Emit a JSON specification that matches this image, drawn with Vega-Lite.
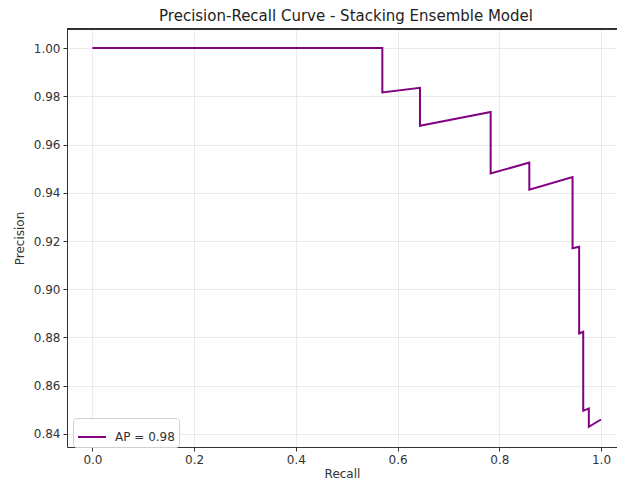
{
  "$schema": "https://vega.github.io/schema/vega-lite/v6.json",
  "autosize": {"type": "none"},
  "padding": {"left": 67, "top": 29, "right": 0, "bottom": 39},
  "width": 550,
  "height": 418,
  "background": "white",
  "title": {
    "text": "Precision-Recall Curve - Stacking Ensemble Model",
    "font": "DejaVu Sans",
    "fontSize": 15,
    "fontWeight": "normal",
    "color": "#222222",
    "anchor": "middle",
    "dx": 4,
    "offset": 5
  },
  "config": {
    "view": {"stroke": null},
    "font": "DejaVu Sans",
    "axis": {
      "labelFont": "DejaVu Sans",
      "labelFontSize": 12,
      "labelColor": "#333333",
      "titleFont": "DejaVu Sans",
      "titleFontSize": 12,
      "titleFontWeight": "normal",
      "titleColor": "#333333",
      "domainColor": "#333333",
      "domainWidth": 1,
      "tickColor": "#333333",
      "tickSize": 4,
      "tickWidth": 1,
      "grid": true,
      "gridColor": "#e6e6e6",
      "gridWidth": 0.8
    }
  },
  "data": {
    "values": [
      {"i": 0, "recall": 0.0, "precision": 1.0},
      {"i": 1, "recall": 0.570, "precision": 1.0},
      {"i": 2, "recall": 0.570, "precision": 0.9816},
      {"i": 3, "recall": 0.644, "precision": 0.9835},
      {"i": 4, "recall": 0.644, "precision": 0.9678},
      {"i": 5, "recall": 0.783, "precision": 0.9735},
      {"i": 6, "recall": 0.783, "precision": 0.948},
      {"i": 7, "recall": 0.859, "precision": 0.9525},
      {"i": 8, "recall": 0.859, "precision": 0.9413},
      {"i": 9, "recall": 0.944, "precision": 0.9465},
      {"i": 10, "recall": 0.944, "precision": 0.917},
      {"i": 11, "recall": 0.957, "precision": 0.9176},
      {"i": 12, "recall": 0.957, "precision": 0.8817},
      {"i": 13, "recall": 0.965, "precision": 0.8824},
      {"i": 14, "recall": 0.965, "precision": 0.8496},
      {"i": 15, "recall": 0.976, "precision": 0.8506},
      {"i": 16, "recall": 0.976, "precision": 0.843},
      {"i": 17, "recall": 1.0, "precision": 0.846}
    ]
  },
  "layer": [
    {
      "transform": [{"calculate": "'AP = 0.98'", "as": "series"}],
      "mark": {"type": "line", "strokeWidth": 2, "clip": true},
      "encoding": {
        "x": {
          "field": "recall",
          "type": "quantitative",
          "scale": {"domain": [-0.05, 1.0314], "nice": false, "zero": false},
          "axis": {"title": "Recall", "values": [0, 0.2, 0.4, 0.6, 0.8, 1.0], "format": ".1f", "titlePadding": 3, "labelPadding": 3, "grid": true}
        },
        "y": {
          "field": "precision",
          "type": "quantitative",
          "scale": {"domain": [0.8346, 1.0079], "nice": false, "zero": false},
          "axis": {"title": "Precision", "values": [0.84, 0.86, 0.88, 0.9, 0.92, 0.94, 0.96, 0.98, 1.0], "format": ".2f", "titlePadding": 7, "labelPadding": 3, "grid": true}
        },
        "order": {"field": "i", "type": "quantitative"},
        "color": {
          "field": "series",
          "type": "nominal",
          "scale": {"range": ["#800080"]},
          "legend": {
            "title": null,
            "orient": "none",
            "legendX": 6,
            "legendY": 389,
            "symbolType": "stroke",
            "symbolSize": 784,
            "symbolStrokeWidth": 2,
            "labelFontSize": 12,
            "labelFont": "DejaVu Sans",
            "labelColor": "#333333",
            "labelOffset": 8,
            "padding": 4,
            "strokeColor": "#d0d0d0",
            "fillColor": "white",
            "cornerRadius": 3
          }
        }
      }
    },
    {
      "mark": {"type": "rule", "color": "#333333", "strokeWidth": 1},
      "encoding": {
        "y": {"datum": 1.0079, "type": "quantitative"}
      }
    }
  ]
}
